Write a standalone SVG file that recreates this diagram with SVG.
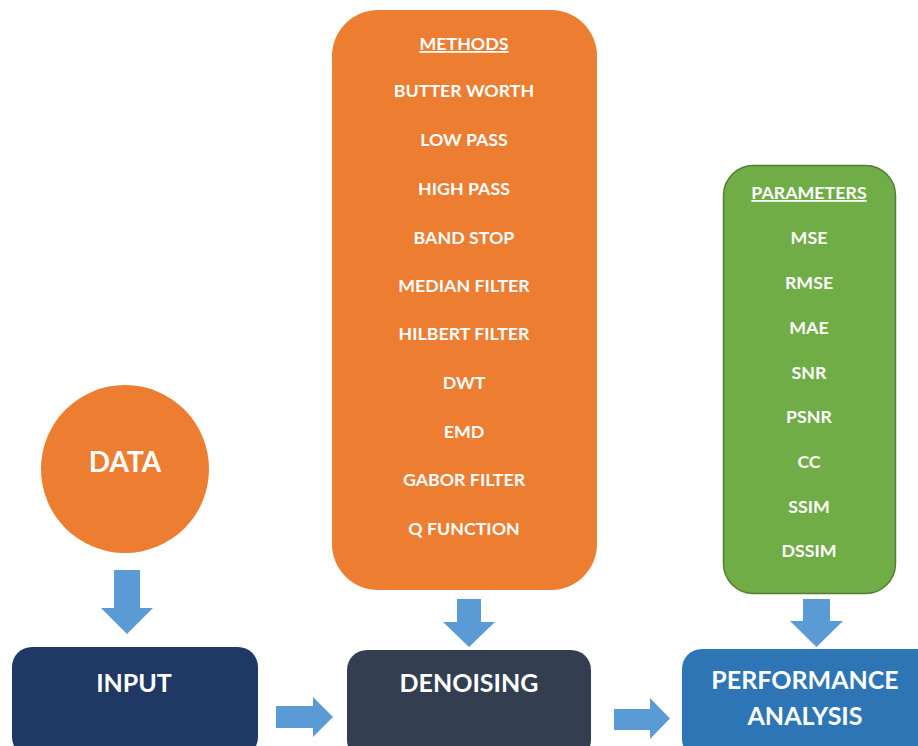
<svg xmlns="http://www.w3.org/2000/svg" width="918" height="746" viewBox="0 0 918 746">
  <defs>
    <style>
      .t { font-family: Lato, "Open Sans", "Liberation Sans", sans-serif; font-weight: bold; fill: #ffffff; text-anchor: middle; }
      .item { font-size: 17.8px; }
      .head { font-size: 17.8px; text-decoration: underline; }
      .big { font-size: 25px; }
      .arrow { fill: #5B9BD5; }
    </style>
  </defs>
  <rect width="918" height="746" fill="#ffffff"/>

  <!-- Source data -->
  <g id="data">
    <circle cx="125" cy="469" r="84" fill="#ED7D31"/>
    <text class="t" x="125" y="472" font-size="28" font-family="'Open Sans', sans-serif">DATA</text>
  </g>

  <!-- Filter methods list -->
  <g id="methods">
    <rect x="332" y="10" width="265" height="580" rx="46" ry="46" fill="#ED7D31"/>
    <text class="t head" x="464" y="50">METHODS</text>
    <text class="t item" x="464" y="97">BUTTER WORTH</text>
    <text class="t item" x="464" y="146">LOW PASS</text>
    <text class="t item" x="464" y="195">HIGH PASS</text>
    <text class="t item" x="464" y="244">BAND STOP</text>
    <text class="t item" x="464" y="292">MEDIAN FILTER</text>
    <text class="t item" x="464" y="340">HILBERT FILTER</text>
    <text class="t item" x="464" y="389">DWT</text>
    <text class="t item" x="464" y="438">EMD</text>
    <text class="t item" x="464" y="486">GABOR FILTER</text>
    <text class="t item" x="464" y="535">Q FUNCTION</text>
  </g>

  <!-- Evaluation metrics list -->
  <g id="parameters">
    <rect x="723.5" y="165.5" width="172" height="428" rx="30" ry="30" fill="#70AD47" stroke="#507E32" stroke-width="1.5"/>
    <text class="t head" x="809" y="199">PARAMETERS</text>
    <text class="t item" x="809" y="244">MSE</text>
    <text class="t item" x="809" y="289">RMSE</text>
    <text class="t item" x="809" y="334">MAE</text>
    <text class="t item" x="809" y="379">SNR</text>
    <text class="t item" x="809" y="423">PSNR</text>
    <text class="t item" x="809" y="468">CC</text>
    <text class="t item" x="809" y="513">SSIM</text>
    <text class="t item" x="809" y="557">DSSIM</text>
  </g>

  <!-- Pipeline stages -->
  <g id="input">
    <rect x="12" y="647" width="246" height="110" rx="20" ry="20" fill="#1F3864"/>
    <text class="t big" x="134" y="692">INPUT</text>
  </g>
  <g id="denoising">
    <rect x="347" y="650" width="244" height="110" rx="20" ry="20" fill="#333F50"/>
    <text class="t big" x="469" y="692">DENOISING</text>
  </g>
  <g id="performance">
    <rect x="682" y="649" width="260" height="110" rx="20" ry="20" fill="#2E75B6"/>
    <text class="t big" x="805" y="689">PERFORMANCE</text>
    <text class="t big" x="805" y="725">ANALYSIS</text>
  </g>

  <!-- Block arrows between stages -->
  <g id="connectors">
    <polygon class="arrow" points="114,570 140,570 140,608 153,608 127,634 101,608 114,608"/>
    <polygon class="arrow" points="457,599 481,599 481,622 495,622 469,647 443,622 457,622"/>
    <polygon class="arrow" points="803,599 830,599 830,621 843,621 816.5,647 790,621 803,621"/>
    <polygon class="arrow" points="276,706 313,706 313,697 333,717 313,737 313,728 276,728"/>
    <polygon class="arrow" points="614,709 650,709 650,698 670,718.5 650,739 650,730 614,730"/>
  </g>
</svg>
